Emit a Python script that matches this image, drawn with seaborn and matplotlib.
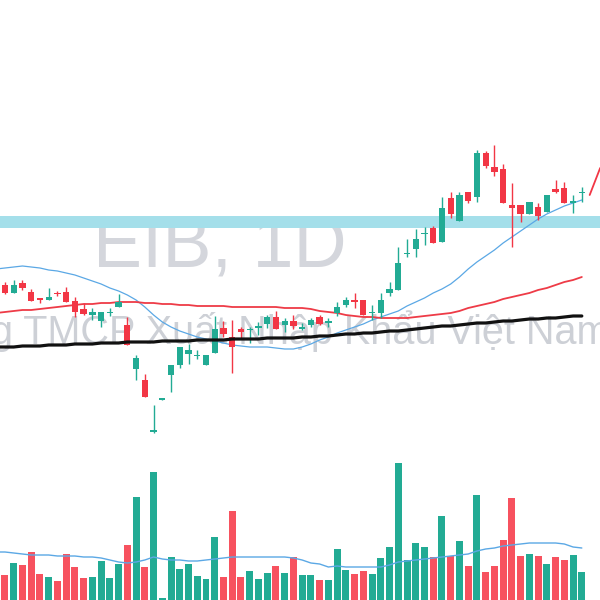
import seaborn as sns
import matplotlib.pyplot as plt

sns.set_style("white")
plt.rcParams["font.family"] = ["Liberation Sans", "DejaVu Sans"]

# daily candles, price in thousand VND
opens = [20.30, 20.14, 20.34, 20.16, 20.04, 20.00, 20.14, 20.16, 19.98, 19.82,
         19.70, 19.58, 19.74, 19.86, 19.50, 18.62, 18.40, 17.36, 18.02, 18.50,
         18.70, 18.92, 18.88, 18.70, 18.94, 19.44, 19.26, 19.42, 19.40, 19.44,
         19.52, 19.66, 19.50, 19.58, 19.42, 19.50, 19.66, 19.54, 19.74, 19.90,
         20.00, 20.00, 19.74, 19.74, 20.14, 20.20, 20.92, 21.02, 21.32, 21.44,
         21.16, 22.04, 21.58, 22.16, 22.06, 22.94, 22.66, 22.62, 21.90, 21.90,
         21.72, 21.86, 21.76, 22.22, 22.24, 21.94, 22.14]
highs = [20.36, 20.40, 20.40, 20.22, 20.04, 20.24, 20.18, 20.26, 20.06, 19.94,
         19.84, 19.76, 19.84, 20.12, 19.66, 18.90, 18.52, 17.90, 18.04, 18.70,
         19.06, 19.12, 19.00, 18.90, 19.68, 19.58, 19.60, 19.46, 19.46, 19.56,
         19.70, 19.78, 19.64, 19.70, 19.54, 19.64, 19.70, 19.64, 19.96, 20.06,
         20.14, 20.00, 19.90, 20.14, 20.36, 21.06, 21.22, 21.42, 21.46, 21.48,
         22.06, 22.16, 22.16, 22.16, 23.00, 22.98, 23.10, 22.72, 22.34, 21.90,
         21.96, 21.94, 22.10, 22.40, 22.36, 22.10, 22.26]
lows = [20.12, 20.14, 20.20, 19.98, 19.94, 20.00, 20.08, 19.96, 19.66, 19.70,
        19.60, 19.46, 19.68, 19.86, 19.10, 18.40, 18.06, 17.34, 18.00, 18.16,
        18.64, 18.72, 18.82, 18.70, 18.94, 19.26, 18.54, 19.24, 19.14, 19.30,
        19.44, 19.42, 19.36, 19.42, 19.40, 19.46, 19.50, 19.46, 19.68, 19.86,
        19.84, 19.70, 19.60, 19.64, 20.08, 20.20, 20.86, 20.86, 21.10, 21.14,
        21.16, 21.64, 21.58, 21.94, 21.96, 22.64, 22.48, 21.94, 21.06, 21.56,
        21.72, 21.60, 21.76, 22.14, 21.94, 21.74, 21.96]
closes = [20.14, 20.30, 20.24, 19.98, 20.00, 20.06, 20.12, 19.96, 19.76, 19.72,
          19.76, 19.76, 19.76, 19.96, 19.10, 18.84, 18.06, 17.40, 18.02, 18.70,
          19.06, 19.00, 18.90, 18.90, 19.42, 19.32, 19.06, 19.36, 19.41, 19.48,
          19.66, 19.42, 19.58, 19.48, 19.46, 19.60, 19.52, 19.58, 19.86, 20.00,
          19.96, 19.70, 19.76, 20.00, 20.22, 20.74, 20.94, 21.22, 21.34, 21.14,
          21.84, 21.72, 22.10, 21.98, 22.94, 22.68, 22.56, 21.94, 21.84, 21.72,
          21.96, 21.68, 22.10, 22.16, 21.94, 21.98, 22.16]
volumes = [2.5, 3.7, 3.5, 4.8, 2.6, 2.3, 1.9, 4.6, 3.3, 2.2,
           2.3, 3.9, 2.2, 3.6, 5.5, 10.3, 3.3, 12.8, 0.2, 4.3,
           3.1, 3.6, 2.4, 2.1, 6.3, 2.3, 8.9, 2.3, 2.9, 2.1,
           2.7, 3.4, 2.7, 4.3, 2.5, 2.5, 2.0, 2.0, 5.1, 3.0,
           2.6, 2.9, 2.6, 4.2, 5.3, 13.7, 4.0, 5.7, 5.3, 4.3,
           8.4, 4.4, 5.9, 3.4, 10.5, 2.8, 3.4, 6.0, 10.2, 4.4,
           4.6, 4.4, 3.6, 4.3, 4.0, 4.5, 2.8]

# moving averages, first value is the session before the visible window
ma20 = [20.62, 20.64, 20.66, 20.68, 20.66, 20.64, 20.60, 20.58, 20.54, 20.50,
        20.44, 20.38, 20.32, 20.24, 20.18, 20.10, 20.00, 19.86, 19.70, 19.56,
        19.46, 19.38, 19.32, 19.26, 19.22, 19.18, 19.14, 19.10, 19.08, 19.06,
        19.06, 19.06, 19.04, 19.02, 19.02, 19.06, 19.12, 19.20, 19.26, 19.34,
        19.40, 19.46, 19.52, 19.60, 19.66, 19.72, 19.78, 19.88, 19.96, 20.04,
        20.14, 20.22, 20.32, 20.46, 20.62, 20.76, 20.88, 21.00, 21.14, 21.26,
        21.38, 21.50, 21.62, 21.72, 21.80, 21.88, 21.94, 22.00]
ma50 = [19.74, 19.76, 19.78, 19.80, 19.80, 19.82, 19.84, 19.86, 19.88, 19.90,
        19.92, 19.92, 19.94, 19.94, 19.96, 19.96, 19.96, 19.94, 19.94, 19.92,
        19.92, 19.90, 19.90, 19.88, 19.88, 19.88, 19.88, 19.86, 19.86, 19.86,
        19.86, 19.86, 19.86, 19.84, 19.84, 19.84, 19.82, 19.78, 19.76, 19.74,
        19.70, 19.68, 19.66, 19.66, 19.64, 19.64, 19.64, 19.64, 19.66, 19.68,
        19.70, 19.72, 19.74, 19.78, 19.84, 19.88, 19.92, 19.96, 20.02, 20.06,
        20.10, 20.14, 20.20, 20.24, 20.30, 20.36, 20.40, 20.46]
ma200 = [19.06, 19.06, 19.06, 19.08, 19.08, 19.08, 19.10, 19.10, 19.10, 19.12,
         19.12, 19.12, 19.14, 19.14, 19.14, 19.16, 19.16, 19.16, 19.16, 19.18,
         19.18, 19.18, 19.18, 19.20, 19.20, 19.20, 19.20, 19.22, 19.22, 19.22,
         19.22, 19.24, 19.24, 19.24, 19.24, 19.26, 19.26, 19.28, 19.28, 19.30,
         19.32, 19.32, 19.34, 19.34, 19.36, 19.38, 19.38, 19.40, 19.42, 19.44,
         19.46, 19.48, 19.48, 19.50, 19.52, 19.54, 19.54, 19.56, 19.58, 19.58,
         19.60, 19.62, 19.62, 19.64, 19.64, 19.66, 19.68, 19.68]
vol_ma = [4.8, 4.8, 4.7, 4.6, 4.5, 4.5, 4.5, 4.4, 4.4, 4.4,
          4.3, 4.3, 4.2, 4.0, 3.8, 3.7, 3.8, 4.0, 4.3, 4.1,
          4.0, 4.0, 3.9, 3.9, 4.0, 4.1, 4.2, 4.3, 4.3, 4.3,
          4.3, 4.3, 4.3, 4.3, 4.2, 4.0, 3.7, 3.6, 3.3, 3.4,
          3.3, 3.3, 3.3, 3.3, 3.3, 3.5, 3.8, 3.9, 4.0, 4.1,
          4.2, 4.3, 4.4, 4.5, 4.6, 4.9, 5.1, 5.2, 5.4, 5.5,
          5.6, 5.7, 5.7, 5.7, 5.7, 5.6, 5.3, 5.2]

zone_low, zone_high = 21.44, 21.68
proj_idx = [66.9, 68.1]
proj_price = [22.10, 22.64]

title = "EIB, 1D"
subtitle = "Ngân hàng TMCP Xuất Nhập Khẩu Việt Nam"

up, down = "#22ab94", "#f23645"
n = len(closes)
idx = list(range(n))
ma_idx = list(range(-1, n))
cols = [up if c >= o else down for o, c in zip(opens, closes)]

fig = plt.figure(figsize=(6, 6), dpi=100)
ax = fig.add_axes([0, 0, 1, 1])
vax = ax.twinx()

# watermark (runs off both edges like the source)
ax.text(0.367, 0.588, title, transform=ax.transAxes, ha="center", va="center",
        fontsize=53, color="#d4d6dc", zorder=0)
ax.text(0.357, 0.449, subtitle, transform=ax.transAxes, ha="center", va="center",
        fontsize=28.5, color="#cdd0d6", zorder=0)

ax.axhspan(zone_low, zone_high, color="#a4dfea", zorder=1, lw=0)

# candles
ax.vlines(idx, lows, highs, colors=cols, linewidth=1, zorder=3)
bodies = [max(abs(c - o), 0.03) for o, c in zip(opens, closes)]
bottoms = [min(o, c) if abs(c - o) >= 0.03 else (o + c) / 2 - 0.015
           for o, c in zip(opens, closes)]
ax.bar(idx, bodies, bottom=bottoms, width=0.72, color=cols, zorder=4, linewidth=0)

sns.lineplot(x=ma_idx, y=ma20, ax=ax, color="#5ba8e5", linewidth=0.9, zorder=2)
sns.lineplot(x=ma_idx, y=ma50, ax=ax, color="#ee3b47", linewidth=1.3, zorder=2)
sns.lineplot(x=ma_idx, y=ma200, ax=ax, color="#111111", linewidth=2.3, zorder=5)
sns.lineplot(x=proj_idx, y=proj_price, ax=ax, color="#f23645", linewidth=1.3, zorder=5)

# volume pane
vcols = [up if c == up else "#f7525f" for c in cols]
vax.bar(idx, volumes, width=0.8, color=vcols, linewidth=0, zorder=2)
sns.lineplot(x=ma_idx, y=vol_ma, ax=vax, color="#5ba8e5", linewidth=1.0, zorder=3)

ax.set_xlim(-0.57, 68.08)
ax.set_ylim(14, 26)
vax.set_ylim(0, 60)
for a in (ax, vax):
    a.set_axis_off()

fig.savefig("out.png", dpi=100)
